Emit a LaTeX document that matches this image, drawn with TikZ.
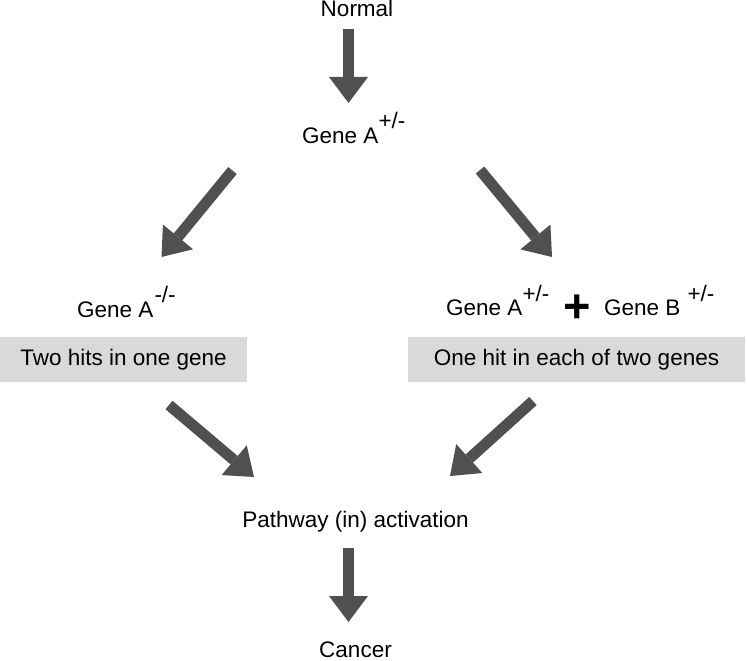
\documentclass[tikz,border=0pt]{standalone}
\usepackage{fontspec}
\setmainfont{Liberation Sans}
\usetikzlibrary{arrows.meta}
\definecolor{arrowgray}{RGB}{80,80,80}
\definecolor{boxgray}{RGB}{217,217,217}
\begin{document}
\begin{tikzpicture}[x=1pt,y=-1pt,
  txt/.style={inner sep=0pt, font=\fontsize{22.5}{27}\selectfont},
  blockarrow/.style={draw=arrowgray, line width=11pt,
    -{Triangle[length=26pt,width=39pt,line width=0pt,fill=arrowgray]}},
  graybox/.style={fill=boxgray, draw=none, inner sep=0pt,
    font=\fontsize{22.5}{27}\selectfont}
]
\useasboundingbox (0,0) rectangle (747,661);

% texts
\node[txt, anchor=base] (normal) at (357,17) {Normal};
\node[txt, anchor=base west] (geneA) at (302,143) {Gene A\raisebox{15pt}{+/-}};
\node[txt, anchor=base west] (geneAmm) at (77,317) {Gene A\raisebox{15pt}{\kern1pt-/-}};
\node[txt, anchor=base west] (geneAr) at (446,315) {Gene A\raisebox{14pt}{+/-}};
\node[inner sep=0pt, anchor=base, font=\fontsize{47}{50}\selectfont\bfseries] (plus) at (577.5,322.5) {+};
\node[txt, anchor=base west] (geneB) at (604,315) {Gene B\hspace{7pt}\raisebox{14pt}{+/-}};

\node[graybox, minimum width=247pt, minimum height=45pt] (box1) at (123.5,359.5) {Two hits in one gene};
\node[graybox, minimum width=337pt, minimum height=45pt] (box2) at (576.5,359.5) {One hit in each of two genes};

\node[txt, anchor=base] (pathway) at (355.5,527) {Pathway (in) activation};
\node[txt, anchor=base] (cancer) at (355.5,657) {Cancer};

% arrow end points
\coordinate (a1s) at (348.5,29);
\coordinate (a1e) at (348.5,103);
\coordinate (a2s) at (232.5,170.5);
\coordinate (a2e) at (161.5,257);
\coordinate (a3s) at (480,170);
\coordinate (a3e) at (552,257);
\coordinate (a4s) at (169,405);
\coordinate (a4e) at (254,477);
\coordinate (a5s) at (533,401);
\coordinate (a5e) at (450,476);
\coordinate (a6s) at (348.5,548);
\coordinate (a6e) at (348.5,622);

\draw[blockarrow] (a1s) -- (a1e);
\draw[blockarrow] (a2s) -- (a2e);
\draw[blockarrow] (a3s) -- (a3e);
\draw[blockarrow] (a4s) -- (a4e);
\draw[blockarrow] (a5s) -- (a5e);
\draw[blockarrow] (a6s) -- (a6e);
\end{tikzpicture}
\end{document}
